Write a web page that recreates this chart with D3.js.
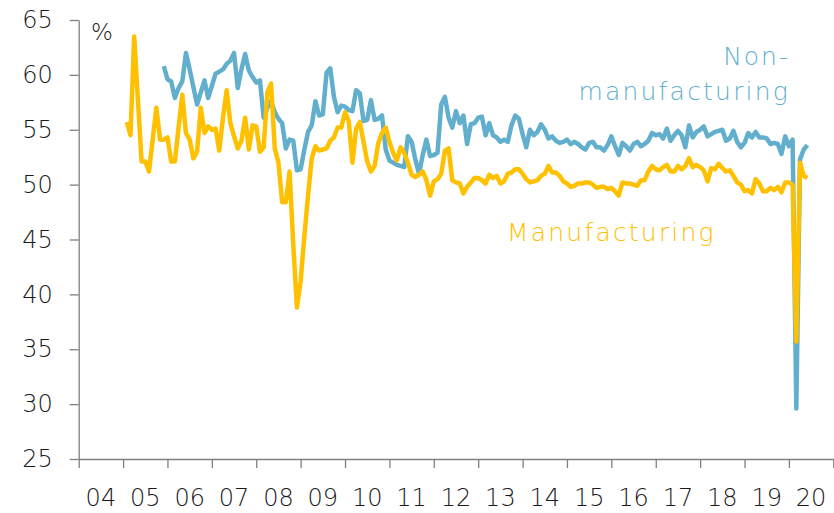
<!DOCTYPE html>
<meta charset="utf-8">
<html>
<head>
  <title>PMI</title>
  <script src="https://d3js.org/d3.v7.min.js"></script>
  <style>
    body { margin: 0; background: #fff; }
    svg { display: block; }
    text { font-family: "Century Gothic", "DejaVu Sans", sans-serif; font-weight: 200; fill: #1a1a1a; }
    .axis path, .axis line { stroke: #7f7f7f; stroke-width: 1.3px; }
  </style>
</head>
<body>
<div id="chart"></div>
<script>
// monthly readings, first value = first month given
var mfgStart = [2005, 1];
var mfgValues = [
  55.7, 54.5, 63.5, 57.8, 52.1, 52.1, 51.2, 54.1, 57.0, 54.1, 54.1, 54.3,
  52.1, 52.1, 55.2, 58.2, 54.7, 54.1, 52.4, 53.0, 57.0, 54.7, 55.3, 55.0,
  55.1, 53.1, 56.1, 58.6, 55.6, 54.4, 53.3, 54.0, 56.1, 53.2, 55.4, 55.3,
  53.0, 53.4, 58.4, 59.2, 53.3, 52.0, 48.4, 48.4, 51.2, 44.6, 38.8, 41.2,
  45.3, 49.0, 52.4, 53.5, 53.1, 53.2, 53.3, 54.0, 54.3, 55.2, 55.2, 56.6,
  55.8, 52.0, 55.1, 55.7, 53.9, 52.1, 51.2, 51.7, 53.8, 54.7, 55.2, 53.9,
  52.9, 52.2, 53.4, 52.9, 52.0, 50.9, 50.7, 50.9, 51.2, 50.4, 49.0, 50.3,
  50.5, 51.0, 53.1, 53.3, 50.4, 50.2, 50.1, 49.2, 49.8, 50.2, 50.6, 50.6,
  50.4, 50.1, 50.9, 50.6, 50.8, 50.1, 50.3, 51.0, 51.1, 51.4, 51.4, 51.0,
  50.5, 50.2, 50.3, 50.4, 50.8, 51.0, 51.7, 51.1, 51.1, 50.8, 50.3, 50.1,
  49.8, 49.9, 50.1, 50.1, 50.2, 50.2, 50.0, 49.7, 49.8, 49.8, 49.6, 49.7,
  49.4, 49.0, 50.2, 50.1, 50.1, 50.0, 49.9, 50.4, 50.4, 51.2, 51.7, 51.4,
  51.3, 51.6, 51.8, 51.2, 51.2, 51.7, 51.4, 51.7, 52.4, 51.6, 51.8, 51.6,
  51.3, 50.3, 51.5, 51.4, 51.9, 51.5, 51.2, 51.3, 50.8, 50.2, 50.0, 49.4,
  49.5, 49.2, 50.5, 50.1, 49.4, 49.4, 49.7, 49.5, 49.8, 49.3, 50.2, 50.2,
  50.0, 35.7, 52.0, 50.8, 50.6
];

var nonMfgStart = [2005, 11];
var nonMfgValues = [
  60.8, 59.6,
  59.4, 57.9, 58.8, 59.4, 62.0, 60.5, 58.9, 57.3, 58.4, 59.5, 57.9, 59.0,
  60.1, 60.3, 60.5, 61.0, 61.3, 62.0, 58.8, 60.5, 61.9, 60.4, 59.8, 59.3,
  59.5, 56.1, 57.0, 57.6, 56.6, 56.0, 55.6, 53.3, 54.1, 54.0, 51.3, 51.4,
  53.2, 54.8, 55.4, 57.6, 56.3, 56.4, 60.2, 60.6, 58.0, 56.6, 57.2, 57.1,
  56.8, 56.7, 58.6, 58.3, 55.8, 55.9, 57.7, 55.9, 56.0, 56.3, 53.2, 52.2,
  52.0, 51.8, 51.7, 51.6, 54.4, 53.9, 52.3, 51.0, 52.7, 54.1, 52.6, 52.7,
  52.9, 57.3, 58.0, 56.1, 55.2, 56.7, 55.6, 56.3, 53.7, 55.5, 55.6, 56.1,
  56.2, 54.5, 55.6, 54.5, 54.3, 53.9, 54.1, 53.9, 55.4, 56.3, 56.0, 54.6,
  53.4, 55.0, 54.5, 54.8, 55.5, 55.0, 54.2, 54.4, 54.0, 53.8, 53.9, 54.1,
  53.7, 53.9, 53.7, 53.4, 53.2, 53.8, 53.9, 53.4, 53.4, 53.1, 53.6, 54.4,
  53.5, 52.7, 53.8, 53.5, 53.1, 53.7, 53.9, 53.5, 53.7, 54.0, 54.7, 54.5,
  54.6, 54.2, 55.1, 54.0, 54.5, 54.9, 54.5, 53.4, 55.4, 54.3, 54.8, 55.0,
  55.3, 54.4, 54.6, 54.8, 54.9, 55.0, 54.0, 54.2, 54.9, 53.9, 53.4, 53.8,
  54.7, 54.3, 54.8, 54.3, 54.3, 54.2, 53.7, 53.8, 53.7, 52.8, 54.4, 53.5,
  54.1, 29.6, 52.3, 53.2, 53.6
];

var yTicks = [25, 30, 35, 40, 45, 50, 55, 60, 65];
var yearTicks = d3.range(2004, 2022);
var yearLabels = ["04", "05", "06", "07", "08", "09", "10", "11", "12",
                  "13", "14", "15", "16", "17", "18", "19", "20"];

var width = 834, height = 513;
var svg = d3.select("#chart").append("svg")
  .attr("width", width)
  .attr("height", height);

var x = d3.scaleLinear().domain([2004, 2021]).range([78.7, 833.3]);
var y = d3.scaleLinear().domain([25, 65]).range([459, 20]);

// each reading sits at the end of its month
function toSeries(start, values) {
  return values.map(function(v, i) {
    var m = start[1] - 1 + i;
    return { t: start[0] + (m + 1) / 12, v: v };
  });
}
var mfg = toSeries(mfgStart, mfgValues);
var nonMfg = toSeries(nonMfgStart, nonMfgValues);

// axes
svg.append("g")
  .attr("class", "axis")
  .attr("transform", "translate(0," + y(25) + ")")
  .call(d3.axisBottom(x).tickValues(yearTicks).tickSize(9).tickSizeOuter(0).tickFormat(""));

var yAxis = svg.append("g")
  .attr("class", "axis")
  .attr("transform", "translate(" + x(2004) + ",0)")
  .call(d3.axisLeft(y).tickValues(yTicks).tickSize(9).tickSizeOuter(0).tickPadding(17));
yAxis.selectAll("text")
  .style("font-size", "24px")
  .style("font-family", '"Century Gothic", "DejaVu Sans", sans-serif')
  .style("font-weight", 200)
  .attr("fill", "#1a1a1a");

svg.append("g").selectAll("text")
  .data(yearLabels)
  .enter().append("text")
  .attr("x", function(d, i) { return x(2004 + i + 0.5); })
  .attr("y", 506)
  .attr("text-anchor", "middle")
  .style("font-size", "24px")
  .text(function(d) { return d; });

svg.append("text")
  .attr("x", 91)
  .attr("y", 40)
  .style("font-size", "23px")
  .text("%");

// lines
var line = d3.line()
  .x(function(d) { return x(d.t); })
  .y(function(d) { return y(d.v); });

svg.append("path")
  .datum(nonMfg)
  .attr("d", line)
  .attr("fill", "none")
  .attr("stroke", "#62afcd")
  .attr("stroke-width", 4.5)
  .attr("stroke-linejoin", "round");

svg.append("path")
  .datum(mfg)
  .attr("d", line)
  .attr("fill", "none")
  .attr("stroke", "#ffc000")
  .attr("stroke-width", 4.5)
  .attr("stroke-linejoin", "round");

// series labels
svg.append("text")
  .attr("x", 790).attr("y", 65)
  .attr("text-anchor", "end")
  .style("font-size", "25px").style("letter-spacing", "2px")
  .style("fill", "#62afcd")
  .text("Non-");
svg.append("text")
  .attr("x", 790).attr("y", 100)
  .attr("text-anchor", "end")
  .style("font-size", "25px").style("letter-spacing", "2.2px")
  .style("fill", "#62afcd")
  .text("manufacturing");
svg.append("text")
  .attr("x", 507).attr("y", 241)
  .style("font-size", "25px").style("letter-spacing", "2.2px")
  .style("fill", "#ffc000")
  .text("Manufacturing");
</script>
</body>
</html>
